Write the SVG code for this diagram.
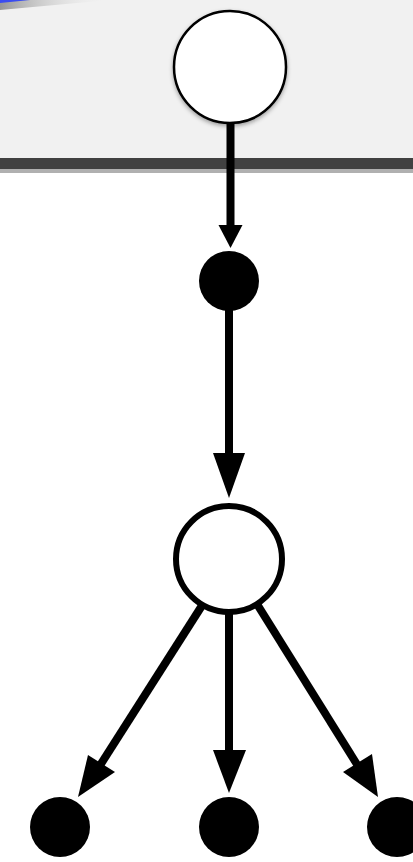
<svg xmlns="http://www.w3.org/2000/svg" width="413" height="862" viewBox="0 0 413 862">
  <defs>
    <filter id="sh" x="-30%" y="-30%" width="160%" height="160%">
      <feDropShadow dx="0" dy="2" stdDeviation="2" flood-color="#000" flood-opacity="0.35"/>
    </filter>
    <linearGradient id="streak" x1="0" y1="0" x2="1" y2="0">
      <stop offset="0" stop-color="#808080" stop-opacity="0.8"/>
      <stop offset="1" stop-color="#f1f1f1" stop-opacity="0"/>
    </linearGradient>
  </defs>
  <style>
    .edge { stroke: #000; stroke-width: 8; fill: none; }
    .head { fill: #000; stroke: none; }
    .dot { fill: #000; }
  </style>
  <rect x="0" y="0" width="413" height="862" fill="#fff"/>
  <g id="panel">
    <rect x="0" y="0" width="413" height="158" fill="#f1f1f1"/>
    <polygon points="0,0 110,0 0,10" fill="url(#streak)"/>
    <polygon points="0,0 30,0 0,3" fill="#3a4cf0"/>
    <rect x="0" y="158" width="413" height="11" fill="#414141"/>
    <rect x="0" y="169" width="413" height="4" fill="#b0b0b0"/>
  </g>
  <g id="connectors">
    <line class="edge" x1="230.5" y1="122" x2="230.5" y2="227"/>
    <polygon class="head" points="218.5,225 242.5,225 230.5,248"/>
    <line class="edge" x1="229" y1="305" x2="229" y2="456"/>
    <polygon class="head" points="213,453 245,453 229,498"/>
    <line class="edge" x1="229" y1="612" x2="229" y2="752"/>
    <polygon class="head" points="213,750 246,750 229,793"/>
    <line class="edge" x1="203" y1="604" x2="99" y2="767"/>
    <polygon class="head" points="88,755 115,772 78,797"/>
    <line class="edge" x1="257" y1="604" x2="358" y2="766"/>
    <polygon class="head" points="343,772 372,754 378,797"/>
  </g>
  <g id="start">
    <circle cx="230" cy="67" r="56" fill="#fff" stroke="#000" stroke-width="2.5" filter="url(#sh)"/>
  </g>
  <g id="n1"><circle class="dot" cx="229" cy="281" r="30"/></g>
  <g id="choice"><circle cx="229" cy="559" r="53" fill="#fff" stroke="#000" stroke-width="6"/></g>
  <g id="leaf1"><circle class="dot" cx="60" cy="827" r="30"/></g>
  <g id="leaf2"><circle class="dot" cx="229" cy="827" r="30"/></g>
  <g id="leaf3"><circle class="dot" cx="397" cy="827" r="30"/></g>
</svg>
